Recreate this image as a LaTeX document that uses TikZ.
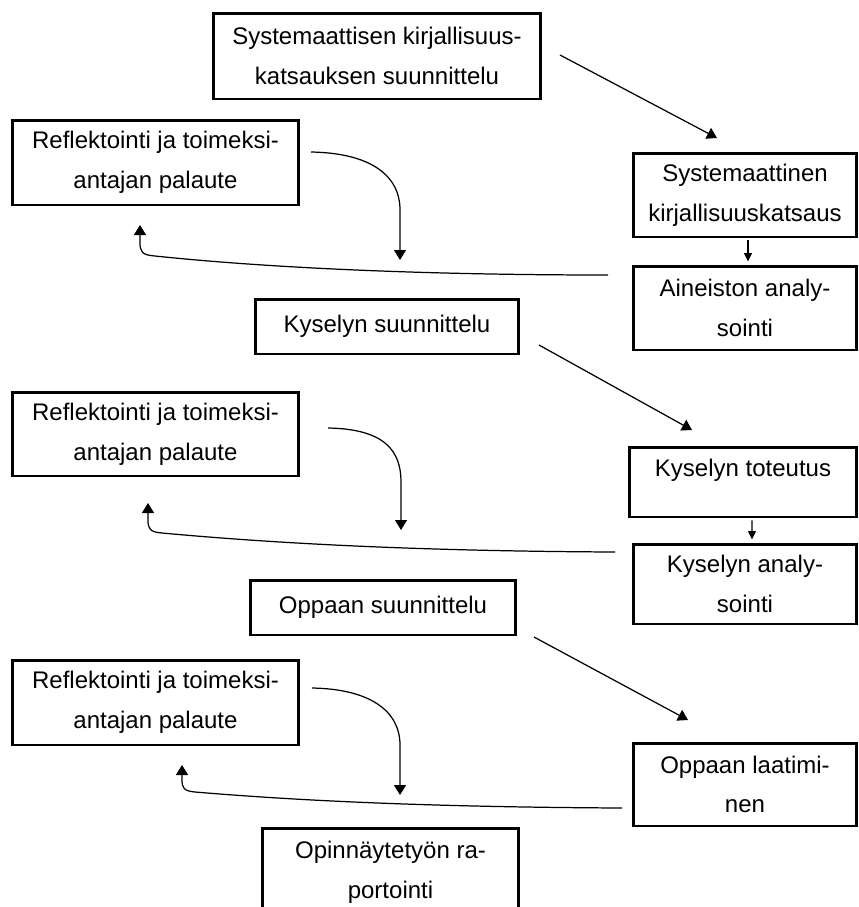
\documentclass[tikz,border=0pt]{standalone}
\usepackage{fontspec}
\setmainfont{Liberation Sans}
\usetikzlibrary{
        arrows.meta,
        positioning
    }
\tikzset{>={Triangle[length=0.2cm,width=0.24cm]}}
\tikzset{
    box/.style={draw, line width=1.7pt, inner sep=0pt, align=center,
        font=\fontsize{13.66pt}{22.6pt}\selectfont},
    link/.style={->, line width=0.7pt},
    short/.style={-{Triangle[length=0.17cm,width=0.16cm]}, line width=0.7pt}
}

\begin{document}
\begin{tikzpicture}[x=0.02cm, y=-0.02cm]
    \useasboundingbox (0,0) rectangle (859,907);
        % first phase
        \node[box, minimum width=6.56cm, minimum height=1.72cm] (plan1) at (377,56)
            {Systemaattisen kirjallisuus-\\katsauksen suunnittelu};
        \node[box, minimum width=5.74cm, minimum height=1.70cm] (refl1) at (155.5,162.5)
            {Reflektointi ja toimeksi-\\antajan palaute};
        \node[box, minimum width=4.48cm, minimum height=1.68cm] (review) at (745,195)
            {Systemaattinen\\kirjallisuuskatsaus};
        \node[box, minimum width=4.48cm, minimum height=1.68cm] (anal1) at (745,308)
            {Aineiston analy-\\sointi};
        % second phase
        \node[box, minimum width=5.28cm, minimum height=1.10cm] (plan2) at (387,326.5)
            {Kyselyn suunnittelu};
        \node[box, minimum width=5.74cm, minimum height=1.68cm] (refl2) at (155.5,434)
            {Reflektointi ja toimeksi-\\antajan palaute};
        \node[box, minimum width=4.56cm, minimum height=1.40cm, text depth=0.58cm] (survey) at (743,482)
            {Kyselyn toteutus};
        \node[box, minimum width=4.48cm, minimum height=1.60cm] (anal2) at (745,584)
            {Kyselyn analy-\\sointi};
        % third phase
        \node[box, minimum width=5.32cm, minimum height=1.10cm] (plan3) at (383,607.5)
            {Oppaan suunnittelu};
        \node[box, minimum width=5.74cm, minimum height=1.70cm] (refl3) at (155.5,702.5)
            {Reflektointi ja toimeksi-\\antajan palaute};
        \node[box, minimum width=4.48cm, minimum height=1.66cm] (guide) at (745,784.5)
            {Oppaan laatimi-\\nen};
        \node[box, minimum width=5.14cm, minimum height=1.76cm] (report) at (390.5,872)
            {Opinnäytetyön ra-\\portointi};

        % free ends of the connectors
        \coordinate (p1s) at (560,55);   \coordinate (p1e) at (717,138);
        \coordinate (p2s) at (539,345);  \coordinate (p2e) at (692,430);
        \coordinate (p3s) at (534,637);  \coordinate (p3e) at (688,720);
        \coordinate (r1s) at (311,152);  \coordinate (r1e) at (400,260);
        \coordinate (r2s) at (328,428);  \coordinate (r2e) at (401,530);
        \coordinate (r3s) at (312,688);  \coordinate (r3e) at (400,795);
        \coordinate (f1s) at (608,275);  \coordinate (f1e) at (140,225);
        \coordinate (f2s) at (615,552);  \coordinate (f2e) at (148,503);
        \coordinate (f3s) at (622,808);  \coordinate (f3e) at (182,765);

        \draw[link] (p1s) -- (p1e);
        \draw[link] (p2s) -- (p2e);
        \draw[link] (p3s) -- (p3e);
        \draw[short] ([xshift=0.06cm,yshift=-0.04cm]review.south) -- ([xshift=0.06cm,yshift=0.06cm]anal1.north);
        \draw[short] ([xshift=0.18cm,yshift=-0.04cm]survey.south) -- ([xshift=0.14cm,yshift=0.06cm]anal2.north);

        \draw[link] (r1s) .. controls (370,153) and (400,175) .. (400,210) -- (r1e);
        \draw[link] (r2s) .. controls (385,429) and (401,451) .. (401,482) -- (r2e);
        \draw[link] (r3s) .. controls (370,689) and (400,711) .. (400,745) -- (r3e);

        \draw[link] (f1s) .. controls (400,275) and (250,266) .. (155,256)
            .. controls (142,255) and (140,252) .. (140,242) -- (f1e);
        \draw[link] (f2s) .. controls (400,551) and (260,542) .. (162,533)
            .. controls (150,532) and (148,529) .. (148,520) -- (f2e);
        \draw[link] (f3s) .. controls (420,807) and (290,800) .. (195,792)
            .. controls (184,791) and (182,788) .. (182,780) -- (f3e);
\end{tikzpicture}
\end{document}
